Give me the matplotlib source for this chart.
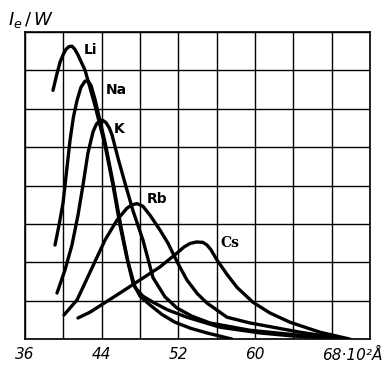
import numpy as np
import matplotlib.pyplot as plt

# emission curves, wavelength in 10^2 A, intensity in grid units
li_x = [38.92, 39.30, 39.65, 40.00, 40.28, 40.60, 40.90, 41.20, 41.53, 42.26, 43.30, 44.35, 45.18, 45.91, 46.64, 47.27, 48.00, 49.04, 50.30, 51.65, 53.30, 54.99, 57.60]
li_y = [6.48, 6.88, 7.21, 7.42, 7.55, 7.62, 7.63, 7.55, 7.40, 7.01, 6.09, 5.05, 4.01, 2.97, 2.11, 1.46, 1.12, 0.89, 0.64, 0.44, 0.28, 0.16, 0.0]

na_x = [39.13, 39.55, 39.97, 40.35, 40.70, 41.05, 41.43, 41.84, 42.26, 42.60, 42.90, 43.30, 44.35, 45.18, 46.02, 46.75, 47.48, 48.30, 49.36, 50.90, 52.90, 56.35, 60.52, 64.00, 67.83, 69.4]
na_y = [2.45, 2.97, 3.55, 4.40, 5.18, 5.78, 6.22, 6.56, 6.72, 6.72, 6.60, 6.25, 5.13, 4.09, 2.92, 2.01, 1.35, 1.12, 0.96, 0.76, 0.57, 0.31, 0.16, 0.08, 0.03, 0.0]

k_x = [39.34, 40.17, 40.90, 41.53, 42.05, 42.57, 43.10, 43.45, 43.80, 44.10, 44.45, 44.80, 45.08, 45.70, 46.44, 47.30, 48.31, 49.36, 50.61, 51.86, 53.40, 55.30, 59.48, 64.70, 69.4]
k_y = [1.20, 1.80, 2.45, 3.23, 4.01, 4.85, 5.40, 5.60, 5.69, 5.70, 5.64, 5.50, 5.32, 4.72, 4.06, 3.32, 2.58, 1.60, 1.10, 0.81, 0.60, 0.42, 0.23, 0.10, 0.0]

rb_x = [40.07, 41.43, 42.78, 44.35, 45.60, 46.64, 47.20, 47.69, 48.31, 49.04, 50.09, 50.92, 51.90, 52.90, 54.00, 54.99, 57.08, 59.48, 64.70, 69.4]
rb_y = [0.63, 1.02, 1.74, 2.58, 3.10, 3.41, 3.50, 3.53, 3.46, 3.23, 2.84, 2.50, 2.00, 1.54, 1.18, 0.94, 0.57, 0.42, 0.18, 0.0]

cs_x = [41.53, 42.78, 45.91, 48.00, 50.09, 51.86, 52.60, 53.22, 53.90, 54.57, 55.00, 55.40, 56.04, 57.10, 58.12, 59.79, 61.57, 63.65, 66.78, 69.9]
cs_y = [0.55, 0.70, 1.20, 1.54, 1.88, 2.24, 2.40, 2.49, 2.53, 2.52, 2.45, 2.33, 2.06, 1.68, 1.35, 0.96, 0.68, 0.44, 0.18, 0.0]

names = ['Li', 'Na', 'K', 'Rb', 'Cs']
label_x = [42.8, 45.5, 45.8, 49.8, 57.4]
label_y = [7.53, 6.48, 5.47, 3.65, 2.5]

tick_vals = [36, 44, 52, 60]

fig = plt.figure(figsize=(3.91, 3.81), dpi=100)
ax = fig.add_axes([0.064, 0.110, 0.882, 0.806])

for xs, ys in [(li_x, li_y), (na_x, na_y), (k_x, k_y), (rb_x, rb_y), (cs_x, cs_y)]:
    ax.plot(xs, ys, color='black', lw=2.4, solid_joinstyle='round', solid_capstyle='round')

for n, lx, ly in zip(names, label_x, label_y):
    fam = 'DejaVu Serif' if n == 'Cs' else 'DejaVu Sans'
    ax.text(lx, ly, n, fontsize=10, fontweight='bold', family=fam, ha='center', va='center')

ax.set_xlim(36, 72)
ax.set_ylim(0, 8)
ax.set_xticks(np.arange(36, 73, 4))
ax.set_xticklabels([str(v) if v in tick_vals else '' for v in range(36, 73, 4)],
                   fontsize=11, style='italic')
ax.set_yticks(np.arange(0, 9, 1))
ax.set_yticklabels([])
ax.tick_params(length=0, pad=6)
ax.grid(True, color='black', lw=1)
for s in ax.spines.values():
    s.set_linewidth(1.2)

ax.text(67.0, -0.068, '68·10²Å', fontsize=11, style='italic', ha='left', va='baseline',
        transform=ax.get_xaxis_transform())
fig.text(0.02, 0.975, r'$I_e\,/\,W$', fontsize=13, ha='left', va='top')

fig.savefig('out.png', dpi=100)
